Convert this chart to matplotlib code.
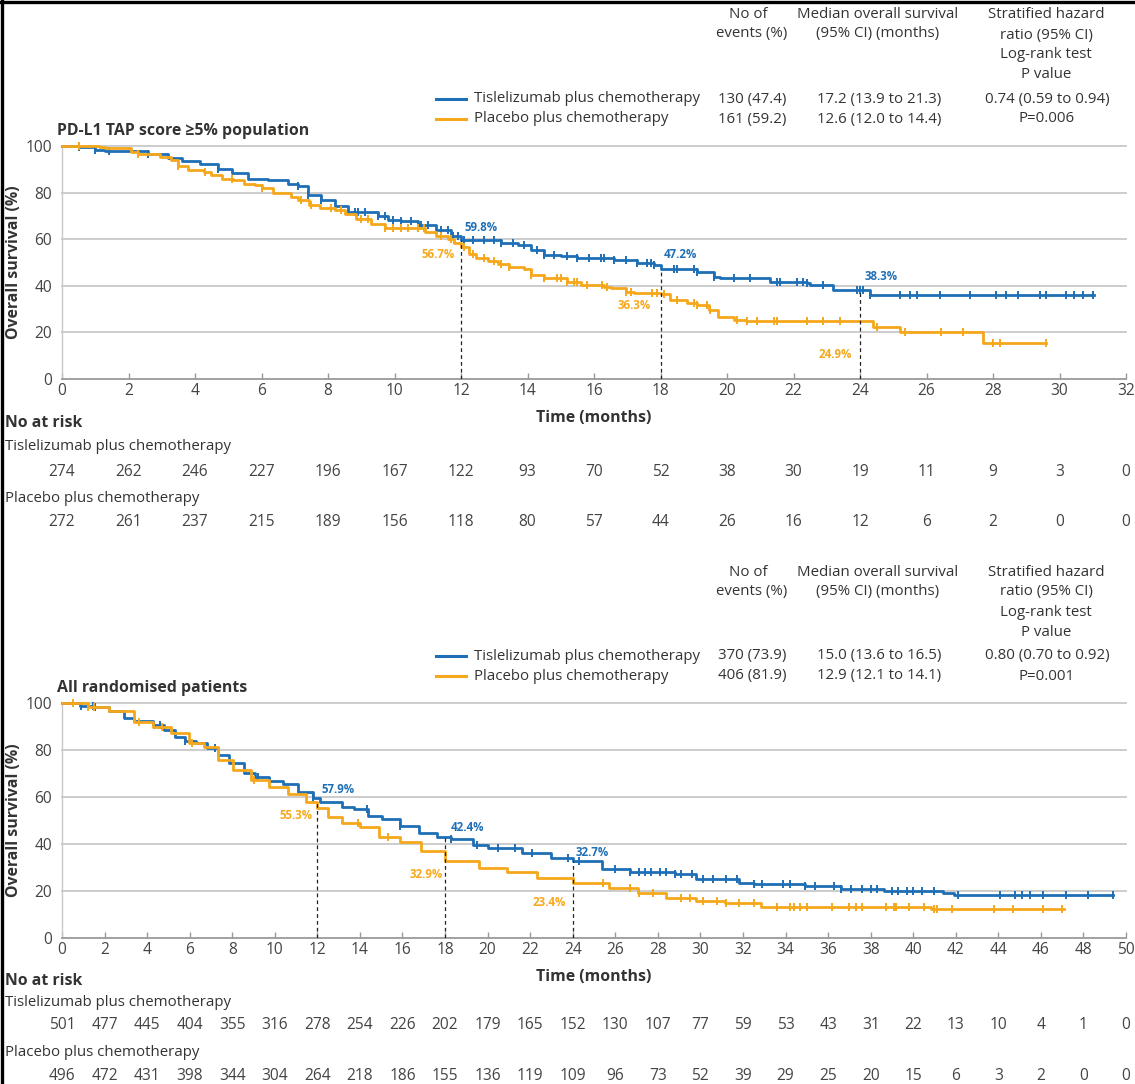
import numpy as np
import matplotlib
matplotlib.use("Agg")
import matplotlib.pyplot as plt
from matplotlib.lines import Line2D
from matplotlib.transforms import blended_transform_factory

plt.rcParams['font.family'] = ['Open Sans', 'DejaVu Sans']

W, H = 1135, 1084
BLUE = "#1f6fb6"
ORANGE = "#f6a81c"
TXT = "#333333"
FS = 10.8

arms = ["Tislelizumab plus chemotherapy", "Placebo plus chemotherapy"]

# ---- PD-L1 TAP >=5% population ----
p1_titles = "PD-L1 TAP score ≥5% population"
p1_events = ["130 (47.4)", "161 (59.2)"]
p1_median = ["17.2 (13.9 to 21.3)", "12.6 (12.0 to 14.4)"]
p1_hr = ["0.74 (0.59 to 0.94)", "P=0.006"]

p1_tis_t = [0, 0.5, 1.0, 1.3, 2.1, 2.6, 3.2, 3.6, 4.15, 4.7, 5.1, 5.6, 6.2, 6.8, 7.1, 7.4,
            7.8, 8.2, 8.6, 9.1, 9.5, 9.8, 10.2, 10.7, 11.25, 11.7, 12.0, 12.3, 13.2, 13.7,
            14.1, 14.5, 15.0, 15.5, 16.6, 17.3, 17.8, 18.0, 19.1, 19.6, 19.8, 21.3, 22.4,
            22.5, 23.2, 24.3, 31.05]
p1_tis_s = [100, 99.6, 98.2, 98.0, 97.9, 96.4, 95.0, 93.6, 92.4, 90.3, 88.2, 86.0, 85.6, 83.9,
            82.7, 78.9, 76.7, 74.2, 71.7, 71.6, 69.9, 68.2, 68.0, 66.0, 63.9, 61.3, 59.8, 59.5,
            58.5, 57.5, 55.3, 53.2, 52.8, 51.8, 51.0, 49.6, 48.9, 47.2, 46.0, 43.9, 43.2, 41.8,
            41.3, 40.3, 38.3, 36.1, 36.1]
p1_tis_cens = [0.5, 1.0, 1.4, 2.6, 4.7, 7.1, 7.4, 7.8, 8.8, 8.9, 9.1, 9.5, 9.7, 9.95, 10.2,
               10.5, 10.7, 10.8, 11.0, 11.4, 11.6, 11.75, 11.9, 12.1, 12.35, 12.7, 13.0, 13.2,
               13.55, 13.9, 14.3, 14.5, 14.8, 15.2, 15.5, 15.85, 16.2, 16.3, 16.6, 16.95, 17.3,
               17.6, 17.7, 17.8, 18.4, 18.5, 19.0, 19.1, 19.6, 20.2, 20.7, 21.5, 21.6, 22.1,
               22.3, 22.4, 22.9, 23.9, 24.0, 24.1, 24.3, 25.2, 25.5, 25.7, 26.4, 27.3, 28.1,
               28.4, 28.75, 29.4, 29.6, 30.2, 30.45, 30.7, 31.0]

p1_pla_t = [0, 1.1, 1.3, 2.07, 2.3, 2.95, 3.27, 3.5, 3.8, 4.26, 4.48, 4.8, 5.13, 5.46, 5.79,
            6.0, 6.34, 6.9, 7.1, 7.43, 7.76, 8.2, 8.5, 8.85, 9.3, 9.7, 10.5, 10.93, 11.25,
            11.6, 11.8, 12.0, 12.24, 12.46, 12.8, 13.1, 13.45, 13.9, 14.1, 14.5, 15.2, 15.6,
            16.3, 16.5, 16.95, 17.2, 18.0, 18.3, 18.8, 19.1, 19.46, 19.73, 20.2, 20.56, 24.4,
            25.2, 27.7, 29.6]
p1_pla_s = [100, 99.6, 99.3, 97.4, 96.4, 95.3, 93.9, 91.3, 89.6, 88.9, 87.5, 86.0, 85.3, 83.9,
            83.2, 81.8, 79.9, 78.2, 76.7, 74.6, 73.2, 72.5, 71.0, 68.5, 66.5, 65.0, 64.6, 63.2,
            61.3, 59.9, 58.5, 56.7, 53.6, 51.8, 50.8, 49.3, 48.2, 47.1, 44.6, 43.2, 41.8, 40.3,
            39.6, 38.9, 37.5, 36.8, 36.3, 33.9, 32.5, 31.8, 29.6, 26.8, 25.4, 24.9, 22.5, 20.3,
            15.3, 15.3]
p1_pla_cens = [0.5, 2.3, 3.5, 4.3, 5.1, 6.0, 7.2, 7.5, 8.1, 8.4, 9.0, 9.2, 9.7, 9.95, 10.2,
               10.4, 10.7, 10.9, 11.4, 11.7, 12.1, 12.35, 12.7, 13.0, 13.2, 13.45, 14.1, 14.5,
               14.9, 15.0, 15.2, 15.4, 15.5, 15.8, 16.25, 16.4, 16.95, 17.1, 17.75, 17.9, 18.1,
               18.5, 19.0, 19.1, 19.4, 19.5, 20.3, 20.6, 20.9, 21.4, 21.5, 22.4, 22.9, 23.4,
               24.5, 25.35, 26.45, 27.1, 28.0, 28.2, 29.6]

p1_marks = [12, 18, 24]
p1_tis_mark = [59.8, 47.2, 38.3]
p1_pla_mark = [56.7, 36.3, 24.9]

p1_risk_t = list(range(0, 33, 2))
p1_risk_tis = [274, 262, 246, 227, 196, 167, 122, 93, 70, 52, 38, 30, 19, 11, 9, 3, 0]
p1_risk_pla = [272, 261, 237, 215, 189, 156, 118, 80, 57, 44, 26, 16, 12, 6, 2, 0, 0]

# ---- All randomised patients ----
p2_titles = "All randomised patients"
p2_events = ["370 (73.9)", "406 (81.9)"]
p2_median = ["15.0 (13.6 to 16.5)", "12.9 (12.1 to 14.1)"]
p2_hr = ["0.80 (0.70 to 0.92)", "P=0.001"]

p2_tis_t = [0, 0.85, 1.5, 2.2, 2.9, 3.4, 4.27, 4.78, 5.3, 5.8, 6.3, 6.8, 7.35, 7.87, 8.55, 9.06,
            9.75, 10.4, 11.1, 11.8, 12.14, 13.17, 13.7, 14.36, 15.05, 15.9, 16.76, 17.6, 18.3,
            19.3, 20.0, 21.6, 22.97, 24.0, 25.36, 26.7, 28.8, 29.8, 31.8, 32.5, 34.9, 36.6,
            38.65, 41.4, 41.9, 49.4]
p2_tis_s = [100, 98.7, 98.4, 96.7, 93.5, 92.5, 90.6, 88.5, 85.7, 84.0, 82.8, 80.7, 77.9, 74.3,
            70.1, 68.6, 66.9, 65.5, 62.3, 59.4, 57.9, 55.9, 54.7, 51.9, 50.5, 47.7, 44.8, 43.1,
            42.0, 39.6, 38.2, 36.0, 34.0, 32.7, 29.5, 28.0, 27.1, 25.2, 23.6, 22.9, 22.1, 20.8,
            20.0, 19.2, 18.5, 18.5]
p2_tis_cens = [0.9, 1.45, 1.55, 4.3, 4.6, 5.8, 7.2, 9.2, 11.8, 14.35, 15.9, 18.3, 19.5, 20.5,
               21.3, 22.1, 23.8, 24.3, 26.0, 26.7, 27.1, 27.4, 27.7, 28.1, 28.4, 28.8, 29.1,
               29.6, 30.1, 30.6, 31.2, 31.7, 32.5, 32.9, 33.9, 34.2, 34.9, 35.4, 36.3, 36.6,
               37.1, 37.6, 38.0, 38.3, 39.0, 39.3, 39.7, 40.0, 40.4, 41.0, 42.1, 44.1, 44.8,
               45.1, 45.5, 46.1, 47.2, 48.2, 49.4]

p2_pla_t = [0, 0.37, 1.2, 2.2, 3.4, 4.27, 5.1, 5.98, 6.66, 7.35, 8.03, 8.9, 9.75, 10.6, 11.46,
            11.97, 12.5, 13.17, 14.0, 14.9, 15.9, 16.85, 18.0, 19.6, 20.9, 22.3, 24.0, 25.7,
            27.06, 28.4, 29.8, 31.15, 32.85, 40.85, 47.1]
p2_pla_s = [100, 100, 98.4, 96.7, 92.0, 89.6, 87.1, 82.8, 81.4, 75.7, 71.5, 67.2, 64.4, 61.3,
            58.0, 55.3, 51.6, 49.0, 47.4, 43.1, 41.0, 37.1, 32.9, 30.0, 27.9, 25.7, 23.4, 21.4,
            19.3, 17.1, 15.7, 15.0, 13.3, 12.2, 12.2]
p2_pla_cens = [0.5, 1.2, 1.5, 3.6, 4.7, 6.1, 9.0, 13.9, 15.3, 25.4, 26.7, 27.1, 27.75, 29.1,
               29.5, 30.1, 30.8, 31.2, 31.8, 32.5, 33.6, 34.2, 34.4, 34.7, 35.0, 36.2, 37.0,
               37.3, 37.6, 38.7, 39.1, 39.2, 39.8, 40.5, 41.0, 41.1, 41.8, 43.8, 44.7, 46.1,
               47.0]

p2_marks = [12, 18, 24]
p2_tis_mark = [57.9, 42.4, 32.7]
p2_pla_mark = [55.3, 32.9, 23.4]

p2_risk_t = list(range(0, 51, 2))
p2_risk_tis = [501, 477, 445, 404, 355, 316, 278, 254, 226, 202, 179, 165, 152, 130, 107, 77,
               59, 53, 43, 31, 22, 13, 10, 4, 1, 0]
p2_risk_pla = [496, 472, 431, 398, 344, 304, 264, 218, 186, 155, 136, 119, 109, 96, 73, 52,
               39, 29, 25, 20, 15, 6, 3, 2, 0, 0]


def fx(px):
    return px / W


def fy(py):
    return 1 - py / H


def surv_at(times, values, t):
    i = np.searchsorted(times, t, side="right") - 1
    return values[i]


fig = plt.figure(figsize=(W / 100, H / 100), dpi=100)


def panel(dy, top_px, bot_px, xmax, title, events, median, hr,
          tis_t, tis_s, tis_c, pla_t, pla_s, pla_c,
          marks, tis_mark, pla_mark, lab_pos,
          risk_t, risk_tis, risk_pla, risk_y):
    # header table
    fig.text(fx(748), fy(15 + dy), "No of", ha="center", va="center", fontsize=FS, color=TXT)
    fig.text(fx(752), fy(34 + dy), "events (%)", ha="center", va="center", fontsize=FS, color=TXT)
    fig.text(fx(878), fy(15 + dy), "Median overall survival", ha="center", va="center", fontsize=FS, color=TXT)
    fig.text(fx(878), fy(34 + dy), "(95% CI) (months)", ha="center", va="center", fontsize=FS, color=TXT)
    for k, s in enumerate(["Stratified hazard", "ratio (95% CI)", "Log-rank test", "P value"]):
        fig.text(fx(1046), fy(15 + 20 * k + dy), s, ha="center", va="center", fontsize=FS, color=TXT)
    for k, (name, col) in enumerate(zip(arms, [BLUE, ORANGE])):
        yy = fy(99 + 20 * k + dy)
        fig.add_artist(Line2D([fx(436), fx(466)], [yy, yy], color=col, lw=2.2))
        fig.text(fx(474), yy, name, ha="left", va="center", fontsize=FS, color=TXT)
        fig.text(fx(752), yy, events[k], ha="center", va="center", fontsize=FS, color=TXT)
        fig.text(fx(879), yy, median[k], ha="center", va="center", fontsize=FS, color=TXT)
        fig.text(fx(1047), yy, hr[k], ha="center", va="center", fontsize=FS, color=TXT)
    fig.text(fx(57), fy(131 + dy), title, ha="left", va="center", fontsize=11.4,
             fontweight="bold", color=TXT)

    ax = fig.add_axes([fx(62), fy(bot_px), (1126 - 62) / W, (bot_px - top_px) / H])
    ax.set_xlim(0, xmax)
    ax.set_ylim(0, 100)
    ax.set_facecolor("none")
    for yv in [20, 40, 60, 80, 100]:
        ax.axhline(yv, color="#c8c8c8", lw=1.3, zorder=1, clip_on=False)
    for sp in ["top", "right"]:
        ax.spines[sp].set_visible(False)
    ax.spines["left"].set_color("#c8c8c8")
    ax.spines["left"].set_linewidth(1.0)
    ax.spines["bottom"].set_color("#9a9a9a")
    ax.spines["bottom"].set_linewidth(1.3)
    ax.set_xticks(range(0, xmax + 1, 2))
    ax.set_yticks([0, 20, 40, 60, 80, 100])
    ax.tick_params(axis="x", direction="in", length=4, width=1, color="#9a9a9a",
                   pad=3, labelsize=11.2, labelcolor="#444444")
    ax.tick_params(axis="y", length=0, pad=7, labelsize=11.2, labelcolor="#444444")
    ax.set_ylabel("Overall survival (%)", fontsize=11.4, fontweight="bold", color=TXT,
                  va="center")
    ax.yaxis.set_label_coords(-48 / 1064, 0.5)
    ax.set_xlabel("Time (months)", fontsize=11.4, fontweight="bold", color=TXT, labelpad=8)

    for t, s, c, col in [(tis_t, tis_s, tis_c, BLUE), (pla_t, pla_s, pla_c, ORANGE)]:
        ax.step(t, s, where="post", color=col, lw=2.0, zorder=3, clip_on=False)
        cy = [surv_at(np.array(t), np.array(s), ci) for ci in c]
        ax.plot(c, cy, ls="none", marker="|", ms=6, mew=1.4, color=col, zorder=3, clip_on=False)

    for m, tv, pv, (bl, ol) in zip(marks, tis_mark, pla_mark, lab_pos):
        ax.plot([m, m], [0, tv], ls=(0, (3, 2.5)), color="#222222", lw=0.9, zorder=4)
        ax.text(m + bl[0], bl[1], f"{tv}%", color=BLUE, fontsize=8.3, fontweight="bold",
                ha="left", va="center")
        ax.text(m + ol[0], ol[1], f"{pv}%", color=ORANGE, fontsize=8.3, fontweight="bold",
                ha="right", va="center")

    # number at risk
    tr = blended_transform_factory(ax.transData, fig.transFigure)
    fig.text(fx(5), fy(risk_y[0]), "No at risk", ha="left", va="center", fontsize=11.4,
             fontweight="bold", color=TXT)
    fig.text(fx(5), fy(risk_y[1]), arms[0], ha="left", va="center", fontsize=FS, color=TXT)
    fig.text(fx(5), fy(risk_y[3]), arms[1], ha="left", va="center", fontsize=FS, color=TXT)
    for t, a, b in zip(risk_t, risk_tis, risk_pla):
        ax.text(t, fy(risk_y[2]), str(a), transform=tr, ha="center", va="center",
                fontsize=11.2, color="#444444", clip_on=False)
        ax.text(t, fy(risk_y[4]), str(b), transform=tr, ha="center", va="center",
                fontsize=11.2, color="#444444", clip_on=False)
    return ax


panel(0, 146, 379, 32, p1_titles, p1_events, p1_median, p1_hr,
      p1_tis_t, p1_tis_s, p1_tis_cens, p1_pla_t, p1_pla_s, p1_pla_cens,
      p1_marks, p1_tis_mark, p1_pla_mark,
      [((0.1, 65.2), (-0.2, 53.6)), ((0.1, 53.6), (-0.3, 31.4)), ((0.15, 44.2), (-0.25, 10.4))],
      p1_risk_t, p1_risk_tis, p1_risk_pla, [423, 447, 472, 498, 522])

panel(557, 703, 938, 50, p2_titles, p2_events, p2_median, p2_hr,
      p2_tis_t, p2_tis_s, p2_tis_cens, p2_pla_t, p2_pla_s, p2_pla_cens,
      p2_marks, p2_tis_mark, p2_pla_mark,
      [((0.2, 63.4), (-0.2, 52.3)), ((0.25, 47.2), (-0.1, 27.2)), ((0.15, 36.2), (-0.3, 14.9))],
      p2_risk_t, p2_risk_tis, p2_risk_pla, [981, 1003, 1025, 1052, 1076])

# frame lines on top and left edges
fig.add_artist(Line2D([0.002, 0.002], [0, 1], color="black", lw=2.4))
fig.add_artist(Line2D([0, 1], [0.998, 0.998], color="black", lw=2.4))

fig.savefig("out.png", dpi=100, facecolor="white")
